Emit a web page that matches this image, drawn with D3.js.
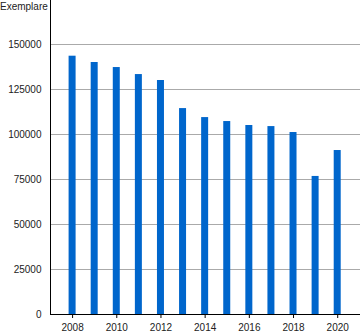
<!DOCTYPE html>
<html><head><meta charset="utf-8">
<script src="https://cdn.jsdelivr.net/npm/d3@7"></script>
<style>body{margin:0;background:#fff}svg{display:block;font-family:"Liberation Sans",Arial,sans-serif}</style>
</head><body>
<svg id="c" width="360" height="333"></svg>
<script>
const years = [2008,2009,2010,2011,2012,2013,2014,2015,2016,2017,2018,2019,2020];
const values = [143500,140000,137200,133300,130000,114400,109400,107200,105000,104400,101100,76700,91100];
const yTicks = [0,25000,50000,75000,100000,125000,150000];
const xTicks = [2008,2010,2012,2014,2016,2018,2020];
const yLabel = "Exemplare";

const svg = d3.select("#c");
const x = d3.scaleLinear().domain([2007,2021]).range([50,359.3]);
const y = d3.scaleLinear().domain([0,150000]).range([314,44]);

// gridlines
svg.append("g").selectAll("line").data(yTicks.filter(d=>d>0)).join("line")
  .attr("x1",50).attr("x2",360).attr("y1",d=>y(d)+0.5).attr("y2",d=>y(d)+0.5)
  .attr("stroke","#aaa").attr("stroke-width",1);

// bars
const bw = 7;
svg.append("g").selectAll("rect").data(years).join("rect")
  .attr("x",(d)=>x(d)-bw/2).attr("width",bw)
  .attr("y",(d,i)=>y(values[i])).attr("height",(d,i)=>y(0)-y(values[i]))
  .attr("fill","#0066cc");

// y axis
svg.append("line").attr("x1",50.5).attr("x2",50.5).attr("y1",0).attr("y2",314).attr("stroke","#000");
svg.append("g").selectAll("text").data(yTicks).join("text")
  .attr("x",41.5).attr("y",d=>y(d)+3.8).attr("text-anchor","end")
  .attr("font-size",10).attr("fill","#222").text(d=>d);

// x axis
const xa = svg.append("g").attr("transform","translate(0,314)")
  .call(d3.axisBottom(x).tickValues(xTicks).tickFormat(d3.format("d")).tickSize(4).tickSizeOuter(0));
xa.select(".domain").remove();
xa.selectAll("text").attr("font-size",10).attr("fill","#222").attr("font-family","Liberation Sans, Arial, sans-serif")
  .attr("y",17).attr("dy",0);
xa.selectAll("line").attr("stroke","#000");
svg.append("line").attr("x1",50).attr("x2",360).attr("y1",314.5).attr("y2",314.5).attr("stroke","#000");

svg.append("text").attr("x",0).attr("y",10).attr("text-anchor","start")
  .attr("font-size",10).attr("fill","#222").text(yLabel);
</script>
</body></html>
